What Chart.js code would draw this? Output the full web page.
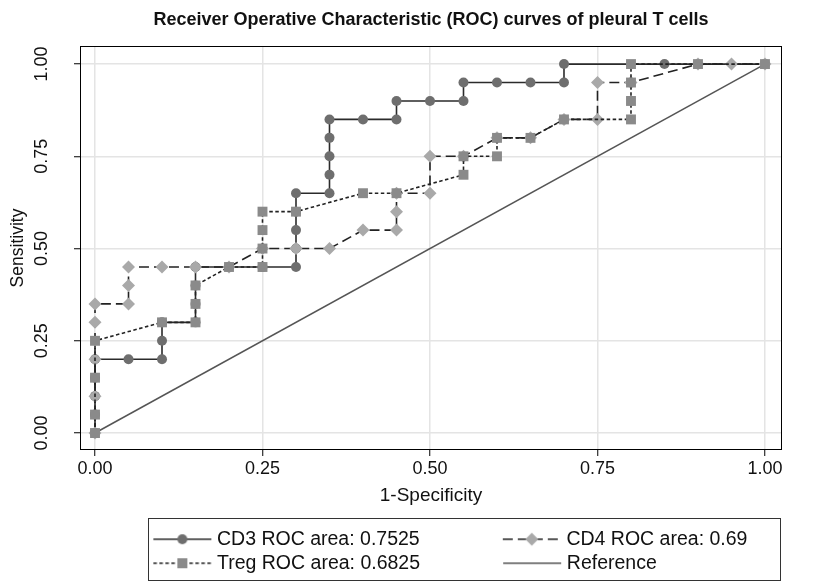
<!DOCTYPE html>
<html>
<head>
<meta charset="utf-8">
<title>ROC curves of pleural T cells</title>
<script src="https://cdn.jsdelivr.net/npm/chart.js@4.4.1/dist/chart.umd.min.js"></script>
<style>
  body { margin: 0; background: #fff; }
  canvas { display: block; }
</style>
</head>
<body>
<canvas id="roc" width="813" height="581"></canvas>
<script>
// ROC points: x = 1-specificity, y = sensitivity
const cd3X = [0, 0, 0, 0, 0, 0.05, 0.1, 0.1, 0.1, 0.15, 0.15, 0.15, 0.15, 0.2, 0.25, 0.3, 0.3, 0.3, 0.3, 0.3, 0.35, 0.35, 0.35, 0.35, 0.35, 0.4, 0.45, 0.45, 0.5, 0.55, 0.55, 0.6, 0.65, 0.7, 0.7, 0.85, 1];
const cd3Y = [0, 0.05, 0.1, 0.15, 0.2, 0.2, 0.2, 0.25, 0.3, 0.3, 0.35, 0.4, 0.45, 0.45, 0.45, 0.45, 0.5, 0.55, 0.6, 0.65, 0.65, 0.7, 0.75, 0.8, 0.85, 0.85, 0.85, 0.9, 0.9, 0.9, 0.95, 0.95, 0.95, 0.95, 1, 1, 1];

const cd4X = [0, 0, 0, 0, 0, 0.05, 0.05, 0.05, 0.1, 0.15, 0.2, 0.25, 0.3, 0.35, 0.4, 0.45, 0.45, 0.45, 0.5, 0.5, 0.55, 0.6, 0.65, 0.7, 0.75, 0.75, 0.8, 0.9, 0.95, 1];
const cd4Y = [0, 0.1, 0.2, 0.3, 0.35, 0.35, 0.4, 0.45, 0.45, 0.45, 0.45, 0.5, 0.5, 0.5, 0.55, 0.55, 0.6, 0.65, 0.65, 0.75, 0.75, 0.8, 0.8, 0.85, 0.85, 0.95, 0.95, 1, 1, 1];

const tregX = [0, 0, 0, 0, 0.1, 0.15, 0.15, 0.15, 0.2, 0.25, 0.25, 0.25, 0.25, 0.3, 0.4, 0.45, 0.55, 0.55, 0.6, 0.6, 0.65, 0.7, 0.8, 0.8, 0.8, 0.8, 0.9, 1];
const tregY = [0, 0.05, 0.15, 0.25, 0.3, 0.3, 0.35, 0.4, 0.45, 0.45, 0.5, 0.55, 0.6, 0.6, 0.65, 0.65, 0.7, 0.75, 0.75, 0.8, 0.8, 0.85, 0.85, 0.9, 0.95, 1, 1, 1];

const refX = [0, 1];
const refY = [0, 1];

const seriesNames = ["CD3 ROC area: 0.7525", "CD4 ROC area: 0.69", "Treg ROC area: 0.6825", "Reference"];
const xTickVals = [0, 0.25, 0.5, 0.75, 1];
const yTickVals = [0, 0.25, 0.5, 0.75, 1];

const FONT = "'Liberation Sans', Arial, Helvetica, sans-serif";
const LEG_FS = 19.5;
const LEG_PAD = 4.5;
const LEG_W = 122.75;

function toPoints(xs, ys) {
  return xs.map((x, i) => ({ x: x, y: ys[i] }));
}

// legend key: a short line with the marker in the middle, pushed to the right of the icon
function legendIcon(dash, lineColor, marker, markerColor) {
  const c = document.createElement("canvas");
  c.width = Math.round(LEG_W + 10);
  c.height = 20;
  const g = c.getContext("2d");
  const x1 = c.width - 1;
  const x0 = x1 - 58;
  const cx = (x0 + x1) / 2;
  g.strokeStyle = lineColor;
  g.lineWidth = 1.6;
  g.setLineDash(dash);
  g.beginPath();
  g.moveTo(x0, 10);
  g.lineTo(x1, 10);
  g.stroke();
  g.setLineDash([]);
  g.fillStyle = markerColor;
  g.beginPath();
  if (marker === "circle") {
    g.arc(cx, 10, 5, 0, Math.PI * 2);
  } else if (marker === "rect") {
    g.rect(cx - 5, 10 - 5, 10, 10);
  } else if (marker === "rectRot") {
    g.moveTo(cx - 6.5, 10);
    g.lineTo(cx, 3.5);
    g.lineTo(cx + 6.5, 10);
    g.lineTo(cx, 16.5);
    g.closePath();
  }
  if (marker) g.fill();
  return c;
}

const legendIcons = [
  legendIcon([], "#2b2b2b", "circle", "#6e6e6e"),
  legendIcon([10, 5], "#222", "rectRot", "#a9a9a9"),
  legendIcon([3.5, 2.5], "#222", "rect", "#8a8a8a"),
  legendIcon([], "#555", null, null)
];

const framePlugin = {
  id: "frame",
  beforeDatasetsDraw(chart) {
    const { ctx, chartArea: a } = chart;
    ctx.save();
    ctx.strokeStyle = "#000";
    ctx.lineWidth = 1;
    ctx.strokeRect(a.left + 0.5, a.top + 0.5, a.right - a.left - 1, a.bottom - a.top - 1);
    ctx.restore();
  },
  afterDraw(chart) {
    const { ctx, chartArea: a, legend } = chart;
    ctx.save();
    ctx.strokeStyle = "#333";
    ctx.lineWidth = 1;
    ctx.strokeRect(a.left + 68.5, legend.top - 6.5, a.right - a.left - 70, 62);
    ctx.restore();
  }
};

new Chart(document.getElementById("roc"), {
  type: "scatter",
  data: {
    datasets: [
      {
        label: seriesNames[0],
        data: toPoints(cd3X, cd3Y),
        showLine: true,
        borderColor: "#2b2b2b",
        borderWidth: 1.6,
        pointStyle: "circle",
        pointRadius: 5,
        pointBorderWidth: 0,
        pointBackgroundColor: "#6e6e6e",
        order: 3
      },
      {
        label: seriesNames[1],
        data: toPoints(cd4X, cd4Y),
        showLine: true,
        borderColor: "#222",
        borderWidth: 1.6,
        borderDash: [10, 5],
        pointStyle: "rectRot",
        pointRadius: 6.5,
        pointBorderWidth: 0,
        pointBackgroundColor: "#a9a9a9",
        order: 2
      },
      {
        label: seriesNames[2],
        data: toPoints(tregX, tregY),
        showLine: true,
        borderColor: "#222",
        borderWidth: 1.6,
        borderDash: [3.5, 2.5],
        pointStyle: "rect",
        pointRadius: 7,
        pointBorderWidth: 0,
        pointBackgroundColor: "#8a8a8a",
        order: 1
      },
      {
        label: seriesNames[3],
        data: toPoints(refX, refY),
        showLine: true,
        borderColor: "#555",
        borderWidth: 1.5,
        pointRadius: 0,
        order: 4
      }
    ]
  },
  options: {
    responsive: false,
    animation: false,
    devicePixelRatio: 1,
    events: [],
    layout: { padding: { left: 0, right: 31, top: 0, bottom: 0 } },
    scales: {
      x: {
        type: "linear",
        min: -0.0224,
        max: 1.0254,
        afterBuildTicks: (scale) => { scale.ticks = xTickVals.map((v) => ({ value: v })); },
        afterFit: (scale) => { scale.height = 75; },
        ticks: {
          autoSkip: false,
          maxRotation: 0,
          padding: 2,
          color: "#111",
          font: { family: FONT, size: 18 },
          callback: (v) => Number(v).toFixed(2)
        },
        grid: { color: "#e4e4e4", lineWidth: 1.5, tickColor: "#000", tickLength: 6, tickWidth: 1 },
        border: { display: false },
        title: {
          display: true,
          text: "1-Specificity",
          color: "#111",
          font: { family: FONT, size: 19 },
          padding: { top: 0, bottom: 17.6 }
        }
      },
      y: {
        type: "linear",
        min: -0.046,
        max: 1.049,
        afterBuildTicks: (scale) => { scale.ticks = yTickVals.map((v) => ({ value: v })); },
        afterFit: (scale) => { scale.width = 80; },
        ticks: {
          autoSkip: false,
          minRotation: 90,
          maxRotation: 90,
          crossAlign: "center",
          padding: 14,
          color: "#111",
          font: { family: FONT, size: 18 },
          callback: (v) => Number(v).toFixed(2)
        },
        grid: { color: "#e4e4e4", lineWidth: 1.5, tickColor: "#000", tickLength: 6, tickWidth: 1 },
        border: { display: false },
        title: {
          display: true,
          text: "Sensitivity",
          color: "#111",
          font: { family: FONT, size: 17.5 },
          padding: { top: 8, bottom: 0 }
        }
      }
    },
    plugins: {
      tooltip: { enabled: false },
      title: {
        display: true,
        fullSize: false,
        text: "Receiver Operative Characteristic (ROC) curves of pleural T cells",
        color: "#111",
        font: { family: FONT, size: 18, weight: "bold" },
        padding: { top: 9.5, bottom: 14.9 }
      },
      legend: {
        display: true,
        position: "bottom",
        align: "start",
        fullSize: false,
        maxHeight: 56,
        labels: {
          usePointStyle: true,
          pointStyleWidth: LEG_W,
          padding: LEG_PAD,
          color: "#111",
          font: { family: FONT, size: LEG_FS },
          sort: (a, b) => a.datasetIndex - b.datasetIndex,
          generateLabels: (chart) => {
            const items = Chart.defaults.plugins.legend.labels.generateLabels(chart);
            items.forEach((it) => {
              it.pointStyle = legendIcons[it.datasetIndex];
              // en space after the first-column labels keeps the two columns apart
              if (it.datasetIndex % 2 === 0) it.text = it.text + "\u2002";
            });
            return items;
          }
        }
      }
    }
  },
  plugins: [framePlugin]
});
</script>
</body>
</html>
